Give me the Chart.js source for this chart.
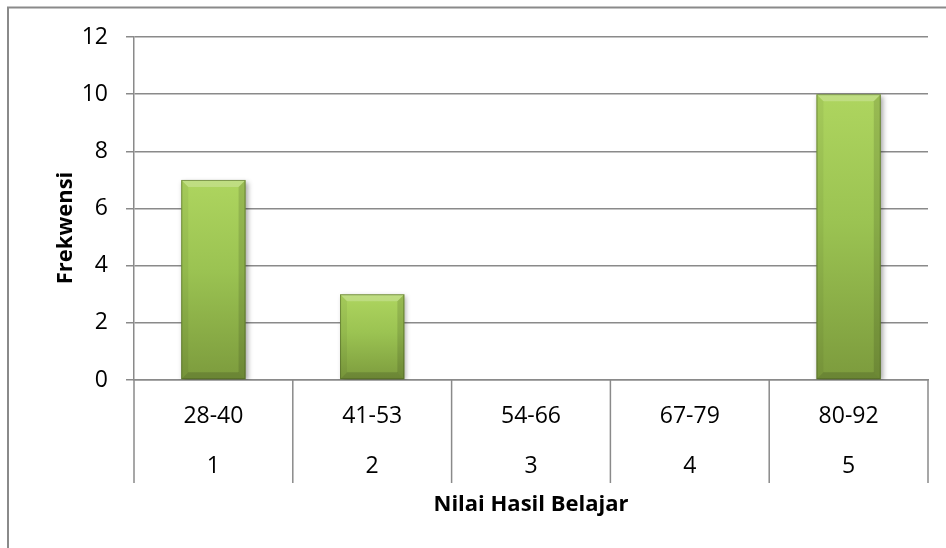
<!DOCTYPE html>
<html>
<head>
<meta charset="utf-8">
<script src="https://cdn.jsdelivr.net/npm/chart.js@4.4.1/dist/chart.umd.min.js"></script>
<style>
  html, body { margin: 0; padding: 0; background: #fff; }
  canvas { display: block; }
</style>
</head>
<body>
<canvas id="grafik" width="946" height="548"></canvas>
<script>
// data
const kelasInterval = ['28-40', '41-53', '54-66', '67-79', '80-92']
const nomorKelas = ['1', '2', '3', '4', '5']
const frekwensi = [7, 3, 0, 0, 10]
const yMin = 0
const yMax = 12
const yStep = 2

const judulX = 'Nilai Hasil Belajar'
const judulY = 'Frekwensi'

const abu = '#8a8a8a'
const hurufBiasa = { family: "'Open Sans', 'Noto Sans', sans-serif", size: 23 }

// outer frame of the chart
const bingkai = {
  id: 'bingkai',
  beforeDraw(chart) {
    const ctx = chart.ctx
    ctx.save()
    ctx.strokeStyle = abu
    ctx.lineWidth = 2
    ctx.strokeRect(8, 7.5, 2000, 2000)
    ctx.restore()
  }
}

// soft shadow behind the bars
const bayangan = {
  id: 'bayangan',
  beforeDatasetDraw(chart) {
    const ctx = chart.ctx
    ctx.save()
    ctx.shadowColor = 'rgba(0,0,0,0.35)'
    ctx.shadowBlur = 5
    ctx.shadowOffsetX = 2
    ctx.shadowOffsetY = 2
  },
  afterDatasetDraw(chart) {
    chart.ctx.restore()
  }
}

// bevel look on each bar, taken from the bar elements themselves
const bevel = {
  id: 'bevel',
  afterDatasetsDraw(chart) {
    const ctx = chart.ctx
    const meta = chart.getDatasetMeta(0)
    meta.data.forEach(bar => {
      const h = bar.base - bar.y
      if (h < 2) return
      const l = bar.x - bar.width / 2
      const r = bar.x + bar.width / 2
      const t = bar.y
      const b = bar.base
      const d = 7
      ctx.save()
      ctx.fillStyle = 'rgba(255,255,255,0.22)'
      ctx.beginPath()
      ctx.moveTo(l, t); ctx.lineTo(r, t); ctx.lineTo(r - d, t + d); ctx.lineTo(l + d, t + d); ctx.closePath()
      ctx.fill()
      ctx.fillStyle = 'rgba(0,0,0,0.05)'
      ctx.beginPath()
      ctx.moveTo(l, t); ctx.lineTo(l + d, t + d); ctx.lineTo(l + d, b - d); ctx.lineTo(l, b); ctx.closePath()
      ctx.fill()
      ctx.fillStyle = 'rgba(0,0,0,0.12)'
      ctx.beginPath()
      ctx.moveTo(r, t); ctx.lineTo(r - d, t + d); ctx.lineTo(r - d, b - d); ctx.lineTo(r, b); ctx.closePath()
      ctx.fill()
      ctx.fillStyle = 'rgba(0,0,0,0.14)'
      ctx.beginPath()
      ctx.moveTo(l, b); ctx.lineTo(l + d, b - d); ctx.lineTo(r - d, b - d); ctx.lineTo(r, b); ctx.closePath()
      ctx.fill()
      ctx.strokeStyle = 'rgba(70,90,30,0.55)'
      ctx.lineWidth = 1
      ctx.strokeRect(l + 0.5, t + 0.5, bar.width - 1, h - 1)
      ctx.restore()
    })
  }
}

// category dividers under the x axis and the axis titles
const pembagi = {
  id: 'pembagi',
  afterDraw(chart) {
    const ctx = chart.ctx
    const sx = chart.scales.x
    const n = kelasInterval.length
    ctx.save()
    ctx.strokeStyle = abu
    ctx.lineWidth = 1.5
    for (let i = 0; i <= n; i++) {
      let x
      if (i === 0) x = sx.left
      else if (i === n) x = sx.right
      else x = (sx.getPixelForTick(i - 1) + sx.getPixelForTick(i)) / 2
      ctx.beginPath()
      ctx.moveTo(x, sx.top)
      ctx.lineTo(x, sx.top + 103)
      ctx.stroke()
    }
    ctx.fillStyle = '#000'
    ctx.font = "bold 22px 'Open Sans', 'Noto Sans', sans-serif"
    ctx.textAlign = 'center'
    ctx.textBaseline = 'middle'
    ctx.fillText(judulX, (sx.left + sx.right) / 2, 505)
    ctx.translate(66, 228)
    ctx.rotate(-Math.PI / 2)
    ctx.fillText(judulY, 0, 0)
    ctx.restore()
  }
}

function warnaBatang(c) {
  const chart = c.chart
  const area = chart.chartArea
  if (!area || c.raw == null) return '#9bbb59'
  const y = chart.scales.y
  const atas = y.getPixelForValue(c.raw)
  const bawah = y.getPixelForValue(0)
  if (bawah - atas < 1) return '#9bbb59'
  const g = chart.ctx.createLinearGradient(0, atas, 0, bawah)
  g.addColorStop(0, '#aed55f')
  g.addColorStop(0.45, '#9bc352')
  g.addColorStop(1, '#7c9b3d')
  return g
}

new Chart(document.getElementById('grafik'), {
  type: 'bar',
  data: {
    labels: kelasInterval.map((k, i) => [k, nomorKelas[i]]),
    datasets: [{
      label: judulY,
      data: frekwensi,
      backgroundColor: warnaBatang,
      borderWidth: 0,
      categoryPercentage: 1,
      barPercentage: 0.405
    }]
  },
  options: {
    responsive: false,
    animation: false,
    devicePixelRatio: 1,
    layout: { padding: { top: 37, right: 18, bottom: 0, left: 0 } },
    plugins: {
      legend: { display: false },
      tooltip: { enabled: false }
    },
    scales: {
      x: {
        offset: true,
        grid: { display: false, drawTicks: false },
        border: { display: true, color: abu, width: 1.5 },
        ticks: {
          color: '#000',
          font: { ...hurufBiasa, lineHeight: 50 / 23 },
          padding: 11,
          maxRotation: 0,
          autoSkip: false
        },
        afterFit(scale) { scale.height = 548 - 380 }
      },
      y: {
        min: yMin,
        max: yMax,
        ticks: {
          stepSize: yStep,
          color: '#000',
          font: hurufBiasa,
          padding: 18
        },
        grid: { color: abu, lineWidth: 1.5, tickLength: 8, drawTicks: true },
        border: { display: true, color: abu, width: 1.5 },
        afterFit(scale) { scale.width = 134 }
      }
    }
  },
  plugins: [bingkai, bayangan, bevel, pembagi]
})
</script>
</body>
</html>
